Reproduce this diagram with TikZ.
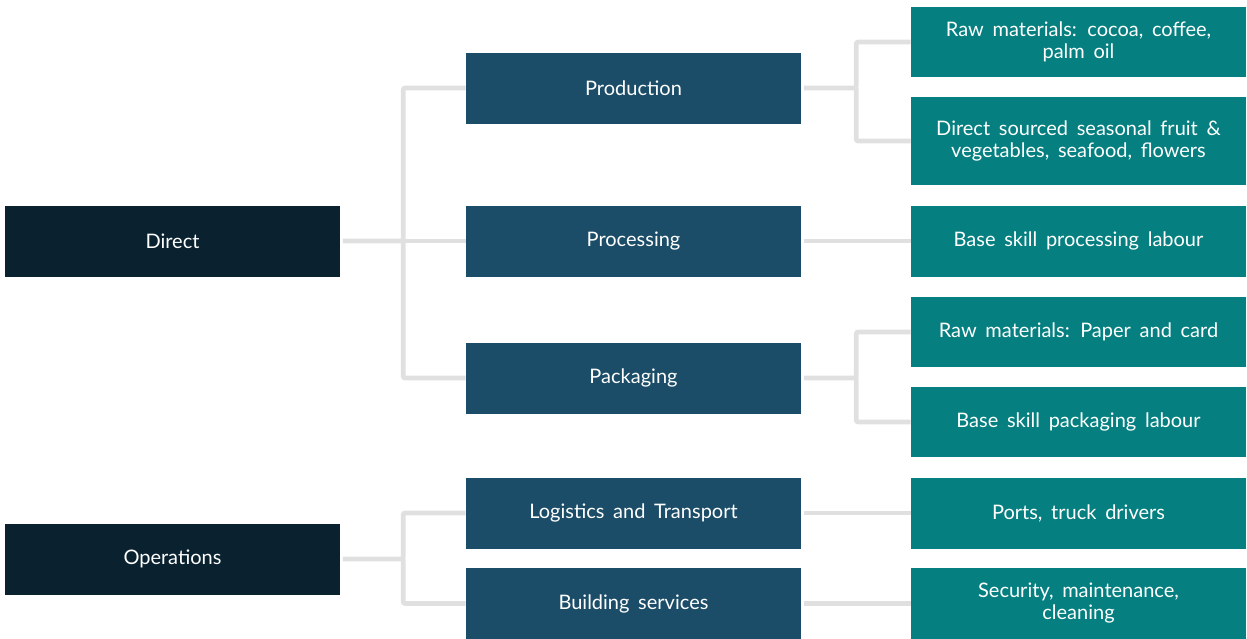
\documentclass[tikz,border=0pt]{standalone}
\usepackage{fontspec}
\setmainfont{Lato}[WordSpace={1.7,1,1}]
\usetikzlibrary{positioning}

\definecolor{topnavy}{HTML}{0A2230}
\definecolor{midblue}{HTML}{1B4D68}
\definecolor{leafteal}{HTML}{057F80}
\definecolor{linkgray}{HTML}{E0E0E0}

\tikzset{
	box/.style={draw=none, text=white, minimum width=335*0.75pt, minimum height=71*0.75pt,
		inner sep=0pt, align=center, font=\fontsize{15}{16.5}\selectfont},
	topbox/.style={box, fill=topnavy},
	midbox/.style={box, fill=midblue},
	leafbox/.style={box, fill=leafteal},
	link/.style={draw=linkgray, line width=3.6pt, shorten <=2pt, rounded corners=1.5pt},
}

\begin{document}
\begin{tikzpicture}[x=0.75pt, y=-0.75pt]
	\useasboundingbox (0, 0) rectangle (1247, 639);

	% first column
	\node[topbox] (direct)     at (172.5, 241) {Direct};
	\node[topbox] (operations) at (172.5, 559) {Operations};

	% second column
	\node[midbox] (production) at (633.5, 88)    {Production};
	\node[midbox] (processing) at (633.5, 241)   {Processing};
	\node[midbox] (packaging)  at (633.5, 378)   {Packaging};
	\node[midbox] (logistics)  at (633.5, 513)   {Logistics and Transport};
	\node[midbox] (building)   at (633.5, 603.5) {Building services};

	% third column
	\node[leafbox, minimum height=70*0.75pt] (cocoa)    at (1078.5, 42)  {Raw materials: cocoa, coffee,\\ palm oil};
	\node[leafbox, minimum height=88*0.75pt] (seasonal) at (1078.5, 141) {Direct sourced seasonal fruit \&\\ vegetables, seafood, flowers};
	\node[leafbox] (proclabour)                         at (1078.5, 241) {Base skill processing labour};
	\node[leafbox, minimum height=70*0.75pt] (paper)    at (1078.5, 332) {Raw materials: Paper and card};
	\node[leafbox, minimum height=70*0.75pt] (packlabour) at (1078.5, 422) {Base skill packaging labour};
	\node[leafbox] (ports)                              at (1078.5, 513) {Ports, truck drivers};
	\node[leafbox] (security)                           at (1078.5, 603.5) {Security, maintenance,\\ cleaning};

	% links from the first column
	\draw[link] (direct.east) -- ++(63, 0) coordinate (dj) |- (production.west);
	\draw[link, shorten <=0pt] (dj) |- (packaging.west);
	\draw[link, shorten <=0pt] (dj) -- (processing.west);

	\draw[link] (operations.east) -- ++(63, 0) coordinate (oj) |- (logistics.west);
	\draw[link, shorten <=0pt] (oj) |- (building.west);

	% links to the third column
	\draw[link] (production.east) -- ++(55, 0) coordinate (pj) |- (cocoa.west);
	\draw[link, shorten <=0pt] (pj) |- (seasonal.west);
	\draw[link] (processing.east) -- (proclabour.west);
	\draw[link] (packaging.east) -- ++(55, 0) coordinate (kj) |- (paper.west);
	\draw[link, shorten <=0pt] (kj) |- (packlabour.west);
	\draw[link] (logistics.east) -- (ports.west);
	\draw[link] (building.east) -- (security.west);

\end{tikzpicture}
\end{document}
